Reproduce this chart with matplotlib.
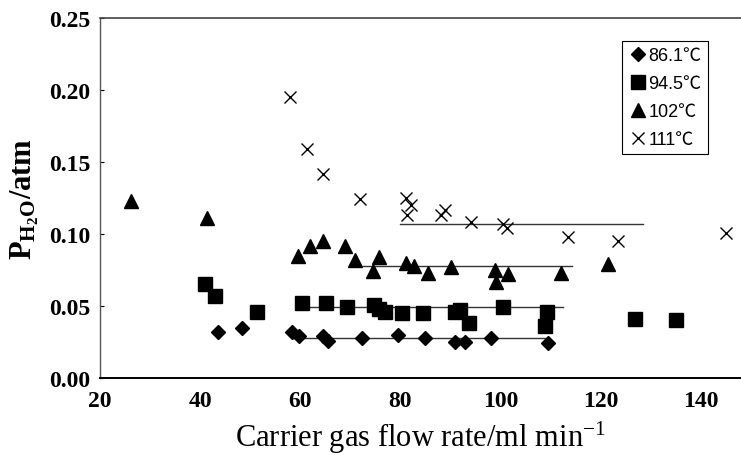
import matplotlib
matplotlib.use("Agg")
import matplotlib.pyplot as plt

plt.rcParams["mathtext.fontset"] = "custom"
plt.rcParams["mathtext.rm"] = "Liberation Serif"
plt.rcParams["mathtext.bf"] = "Liberation Serif:bold"
plt.rcParams["mathtext.it"] = "Liberation Serif:italic"

# 86.1 C
flow_861 = [43.5, 48.3, 58.3, 59.7, 64.5, 65.5, 72.3, 79.5, 84.9, 90.9, 92.8, 98.0, 109.5]
p_861 = [0.032, 0.035, 0.032, 0.029, 0.029, 0.026, 0.028, 0.030, 0.028, 0.025, 0.025, 0.028, 0.024]

# 94.5 C
flow_945 = [40.9, 42.9, 51.4, 60.3, 65.1, 69.3, 74.7, 75.7, 76.9, 80.3, 84.5, 90.8, 91.8, 93.7,
            100.5, 109.3, 108.9, 126.8, 135.0]
p_945 = [0.065, 0.057, 0.046, 0.052, 0.052, 0.049, 0.051, 0.048, 0.046, 0.045, 0.045, 0.046,
         0.047, 0.038, 0.049, 0.046, 0.036, 0.041, 0.040]

# 102 C
flow_102 = [26.1, 41.3, 59.5, 61.9, 64.5, 69.0, 70.9, 74.5, 75.8, 81.1, 82.8, 85.5, 90.0, 98.8,
            99.1, 101.5, 112.0, 121.4]
p_102 = [0.123, 0.111, 0.085, 0.092, 0.095, 0.092, 0.082, 0.074, 0.084, 0.080, 0.078, 0.073,
         0.077, 0.075, 0.067, 0.072, 0.073, 0.079]

# 111 C
flow_111 = [58.0, 61.3, 64.5, 71.9, 81.1, 82.2, 81.4, 88.9, 88.1, 94.1, 100.4, 101.2, 113.5,
            123.5, 145.1]
p_111 = [0.195, 0.159, 0.142, 0.124, 0.125, 0.120, 0.113, 0.117, 0.113, 0.108, 0.107, 0.104,
         0.098, 0.095, 0.101]

# horizontal average lines (x start, x end, level)
fit_861 = ([58.5, 109.0], 0.028)
fit_945 = ([60.0, 112.5], 0.0495)
fit_102 = ([72.5, 114.2], 0.078)
fit_111 = ([80.0, 128.5], 0.1066)

labels = ["86.1\u2103", "94.5\u2103", "102\u2103", "111\u2103"]

fig = plt.figure(figsize=(7.41, 4.56), dpi=100)
ax = fig.add_axes([100 / 741, 77 / 456, 641 / 741, 360 / 456])

for xs, level in [fit_861, fit_945, fit_102, fit_111]:
    ax.plot(xs, [level, level], color="#333333", lw=1.0, zorder=1)

ax.plot(flow_861, p_861, "D", color="black", ms=7, ls="none", label=labels[0], zorder=3)
ax.plot(flow_945, p_945, "s", color="black", ms=9.5, ls="none", label=labels[1], zorder=3)
ax.plot(flow_102, p_102, "^", color="black", ms=10, ls="none", label=labels[2], zorder=3)
ax.plot(flow_111, p_111, "x", color="black", ms=9, mew=1.0, ls="none", label=labels[3], zorder=3)

ax.set_xlim(20, 148)
ax.set_ylim(0, 0.25)
ax.set_xticks([20, 40, 60, 80, 100, 120, 140])
ax.set_yticks([0.0, 0.05, 0.10, 0.15, 0.20, 0.25])
ax.set_yticklabels(["0.00", "0.05", "0.10", "0.15", "0.20", "0.25"])

for lab in ax.get_xticklabels() + ax.get_yticklabels():
    lab.set_fontfamily("Liberation Serif")
    lab.set_fontweight("bold")
    lab.set_fontsize(17)

ax.tick_params(axis="x", length=0, pad=9)
ax.tick_params(axis="y", direction="in", length=3, pad=7, width=0.8)

ax.spines["right"].set_visible(False)
ax.spines["top"].set_color("#444444")
ax.spines["top"].set_linewidth(1.2)
ax.spines["left"].set_color("#555555")
ax.spines["left"].set_linewidth(1.0)
ax.spines["bottom"].set_linewidth(1.4)

ax.set_xlabel("Carrier gas flow rate/ml min$^{\\mathrm{-1}}$",
              fontfamily="Liberation Serif", fontsize=22, labelpad=5)
ax.set_ylabel("$\\mathbf{P_{H_2O}}$/atm",
              fontfamily="Liberation Serif", fontweight="bold", fontsize=22, labelpad=6)

leg = ax.legend(loc="upper right", bbox_to_anchor=(0.948, 0.936), borderaxespad=0,
                prop={"family": ["Liberation Sans", "Noto Sans CJK SC"], "size": 13},
                handletextpad=0.1, handlelength=1.0, labelspacing=0.6,
                borderpad=0.35, fancybox=False, framealpha=1, edgecolor="black")
leg.get_frame().set_linewidth(0.8)

fig.savefig("out.png", dpi=100)
